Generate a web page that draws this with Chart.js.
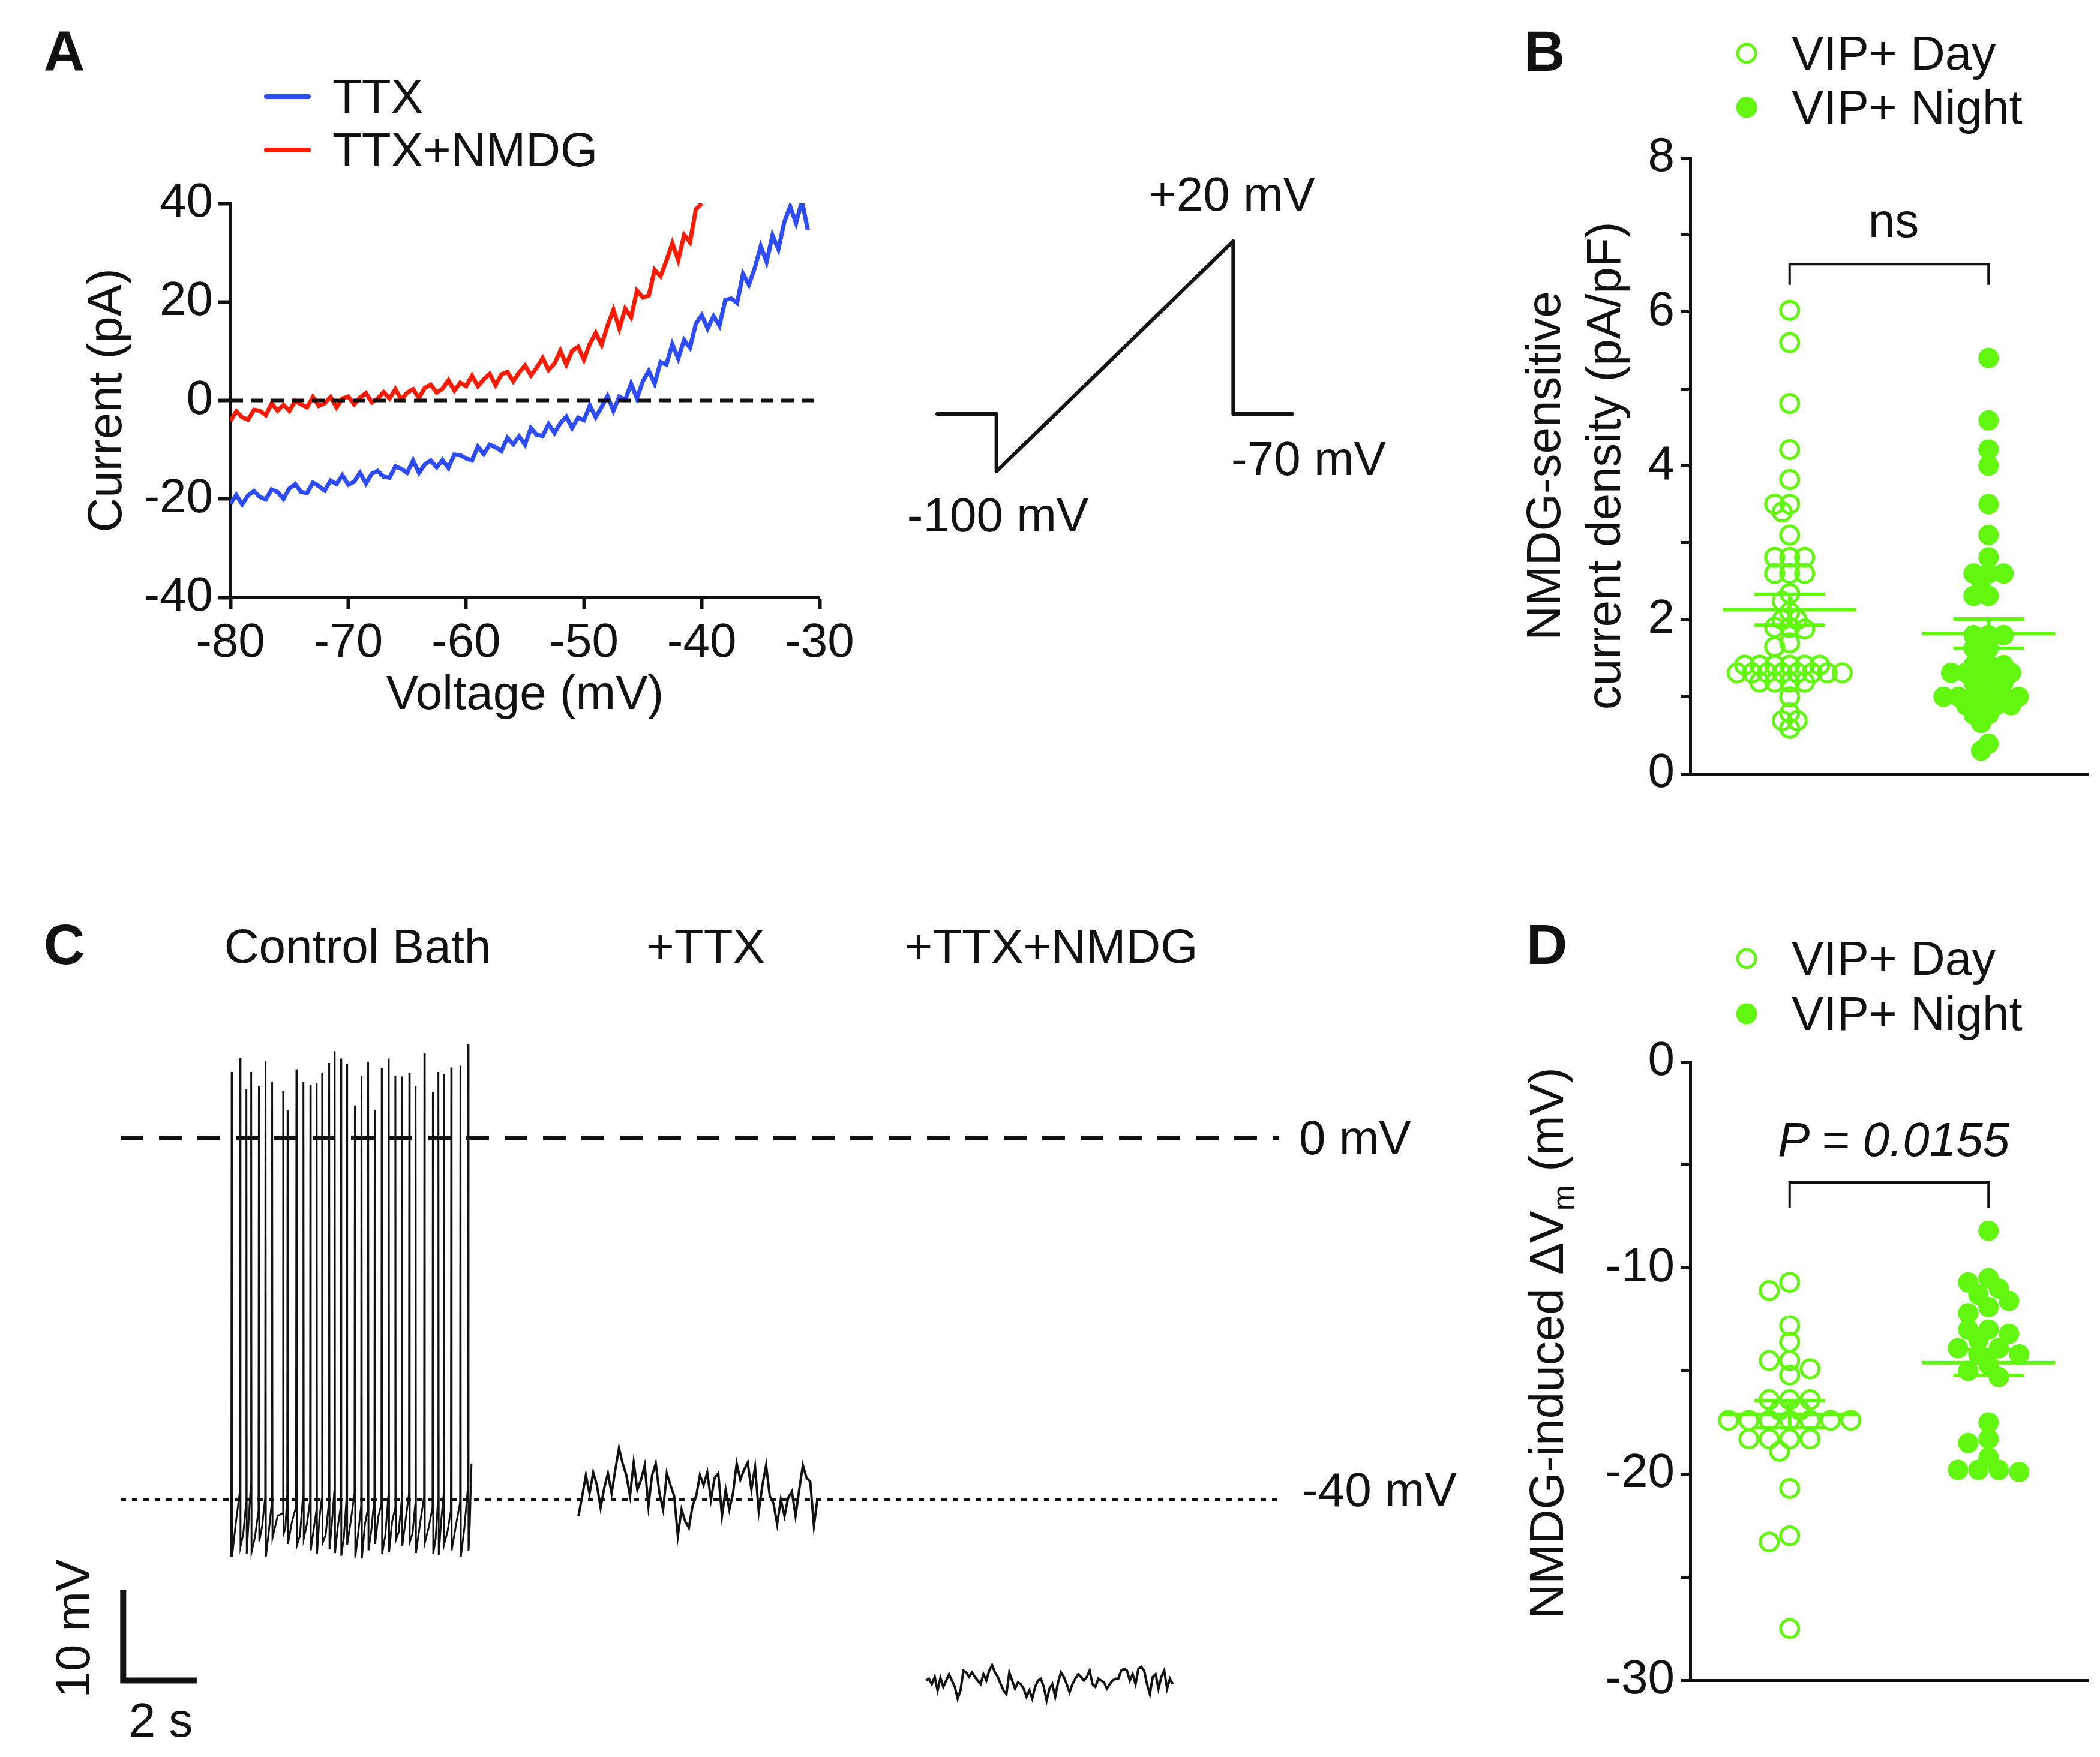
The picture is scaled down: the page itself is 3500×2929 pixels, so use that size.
<!DOCTYPE html>
<html>
<head>
<meta charset="utf-8">
<script src="https://cdn.jsdelivr.net/npm/chart.js"></script>
<style>
  body { margin:0; width:3500px; height:2929px; background:#fff; position:relative; overflow:hidden;
         font-family:"Liberation Sans", Arial, Helvetica, sans-serif; color:#111; }
  canvas { position:absolute; }
  .t { position:absolute; font-size:80px; line-height:1; white-space:nowrap; transform:translate(-50%,-50%); }
  .l { position:absolute; font-size:80px; line-height:1; white-space:nowrap; transform:translateY(-50%); }
  .big { font-size:95px; font-weight:bold; }
  .seg { position:absolute; height:8px; width:78px; border-radius:4px; }
  .dot { position:absolute; border-radius:50%; box-sizing:border-box; transform:translate(-50%,-50%); }
</style>
</head>
<body>

<!-- panel letters -->
<div class="t big" style="left:107px;top:85px">A</div>
<div class="t big" style="left:2574px;top:85px">B</div>
<div class="t big" style="left:107px;top:1574px">C</div>
<div class="t big" style="left:2578px;top:1574px">D</div>

<!-- A legend -->
<div class="seg" style="left:440px;top:157px;background:#2d4bff"></div>
<div class="l" style="left:554px;top:161px">TTX</div>
<div class="seg" style="left:440px;top:246px;background:#ff1a00"></div>
<div class="l" style="left:554px;top:250px">TTX+NMDG</div>

<!-- ramp protocol labels -->
<div class="t" style="left:2053px;top:324px">+20 mV</div>
<div class="t" style="left:1663px;top:859px">-100 mV</div>
<div class="t" style="left:2181px;top:765px">-70 mV</div>

<!-- B legend -->
<div class="dot" style="left:2911px;top:89px;width:35px;height:35px;border:5px solid #62f70f"></div>
<div class="l" style="left:2986px;top:89px">VIP+ Day</div>
<div class="dot" style="left:2911px;top:179px;width:35px;height:35px;background:#62f70f"></div>
<div class="l" style="left:2986px;top:179px">VIP+ Night</div>
<div class="t" style="left:3156px;top:368px">ns</div>

<!-- C labels -->
<div class="t" style="left:596px;top:1578px">Control Bath</div>
<div class="t" style="left:1176px;top:1578px">+TTX</div>
<div class="t" style="left:1752px;top:1578px">+TTX+NMDG</div>
<div class="l" style="left:2165px;top:1897px">0 mV</div>
<div class="l" style="left:2170px;top:2484px">-40 mV</div>
<div class="t" style="left:122px;top:2715px;transform:translate(-50%,-50%) rotate(-90deg)">10 mV</div>
<div class="t" style="left:268px;top:2868px">2 s</div>

<!-- D legend and labels -->
<div class="dot" style="left:2911px;top:1598px;width:35px;height:35px;border:5px solid #62f70f"></div>
<div class="l" style="left:2986px;top:1598px">VIP+ Day</div>
<div class="dot" style="left:2911px;top:1690px;width:35px;height:35px;background:#62f70f"></div>
<div class="l" style="left:2986px;top:1690px">VIP+ Night</div>
<div class="t" style="left:3156px;top:1900px;font-style:italic">P = 0.0155</div>
<div class="t" style="left:2578px;top:2239px;transform:translate(-50%,-50%) rotate(-90deg)">NMDG-induced &Delta;V<span style="font-size:52px;position:relative;top:18px">m</span> (mV)</div>

<canvas id="ivChart" width="1304" height="928" style="left:132px;top:280px"></canvas>
<canvas id="rampChart" width="720" height="500" style="left:1500px;top:350px"></canvas>
<canvas id="densChart" width="972" height="1150" style="left:2528px;top:200px"></canvas>
<canvas id="traceChart" width="2050" height="1270" style="left:150px;top:1650px"></canvas>
<canvas id="vmChart" width="972" height="1161" style="left:2528px;top:1700px"></canvas>

<script>
// ---------- panel A: I-V ramp (pA vs mV), sampled every 0.5 mV from -80 mV
const ivStart = -80, ivStep = 0.5;
const ttxI = [-21.0,-19.2,-21.1,-19.3,-18.4,-19.6,-20.1,-18.1,-18.6,-20.0,-17.9,-17.0,-18.6,-18.8,-16.7,-17.4,
  -18.3,-16.3,-17.0,-15.2,-17.1,-16.5,-14.7,-16.9,-14.9,-14.3,-15.5,-15.7,-13.4,-13.9,-14.7,-12.2,-14.7,-13.0,
  -12.2,-13.6,-12.1,-13.7,-11.0,-11.1,-11.8,-12.2,-9.4,-10.9,-9.0,-9.5,-10.3,-7.6,-8.9,-7.3,-9.0,-5.6,-7.0,-7.2,
  -4.8,-6.6,-4.6,-3.3,-5.6,-3.5,-4.0,-1.0,-3.4,-1.3,0.9,-2.1,0.8,0.1,3.4,0.4,3.9,6.0,3.4,7.8,7.3,11.4,8.5,12.3,
  10.7,15.6,17.3,14.6,17.1,15.2,20.4,20.7,19.8,25.7,23.5,26.9,31.3,28.1,33.5,30.7,36.2,39.4,36.0,40.5,34.6];
const nmdgI = [-4.2,-2.2,-3.4,-3.9,-1.9,-2.1,-3.0,-0.6,-2.1,-0.9,-2.1,-0.1,-0.8,-1.4,0.7,-1.1,-0.6,0.7,-1.4,0.4,
  0.8,-0.8,0.6,1.5,-0.4,0.4,1.7,0.4,2.3,0.2,1.6,2.3,0.5,2.6,3.2,1.6,2.4,4.1,2.0,3.6,2.9,5.0,2.9,4.3,5.4,3.1,5.3,
  5.8,3.9,5.7,7.1,5.1,6.7,8.6,6.2,7.5,10.1,7.3,10.1,10.9,8.3,11.5,13.7,11.3,15.2,18.4,14.6,18.6,16.9,22.3,20.9,
  21.3,26.5,25.2,28.4,31.9,28.5,33.6,32.1,38.8,40.0];

// ramp protocol (command voltage)
const rampT = [0, 1, 1, 5, 5, 6];
const rampV = [-70, -70, -100, 20, -70, -70];

// ---------- panel B: NMDG-sensitive current density (pA/pF)
const dayB = [6.02,5.6,4.81,4.21,3.82,3.5,3.5,3.4,3.1,2.81,2.81,2.81,2.6,2.6,2.6,2.34,2.24,2.1,2.0,2.0,1.9,1.9,1.88,
  1.7,1.65,1.41,1.41,1.41,1.41,1.41,1.41,1.31,1.31,1.31,1.31,1.31,1.31,1.31,1.31,1.19,1.19,1.19,1.19,1.0,0.79,0.69,0.69,0.59];
const nightB = [5.4,4.59,4.21,4.0,3.5,3.1,2.81,2.6,2.6,2.6,2.5,2.31,2.31,1.8,1.8,1.8,1.63,1.63,1.51,1.41,1.41,1.41,
  1.31,1.31,1.31,1.31,1.31,1.19,1.19,1.19,1.1,1.0,1.0,1.0,1.0,1.0,1.0,0.89,0.89,0.89,0.89,0.77,0.77,0.66,0.39,0.3];
const meanB = [2.13, 1.82];
const semB = [0.2, 0.19];

// ---------- panel C: membrane potential traces (s, mV)
const ctrlStart = 3.0, ctrlEnd = 9.54, ctrlStartVm = -46.3, ctrlEndVm = -36.0;
const ctrlSpikeT = [3.02,3.25,3.42,3.55,3.76,3.94,4.12,4.42,4.54,4.78,4.97,5.16,5.33,5.48,5.67,5.82,5.99,6.15,
  6.37,6.55,6.73,6.91,7.10,7.29,7.47,7.65,7.85,8.02,8.26,8.49,8.64,8.79,8.99,9.24,9.45];
const ctrlPeak = [7.3,8.9,5.4,7.3,5.7,8.5,6.2,5.2,3.1,7.6,6.2,5.9,6.1,7.2,8.3,9.6,8.8,8.2,3.6,6.9,8.4,3.1,7.7,8.8,
  6.9,6.8,7.2,5.7,9.4,5.1,7.3,7.1,7.8,8.0,10.4];
const ctrlTrough = [-46.3,-45.2,-46.0,-45.8,-44.6,-46.3,-44.2,-43.8,-44.9,-45.1,-44.3,-45.6,-46.0,-44.8,-45.5,-45.9,
  -46.2,-45.0,-46.4,-46.5,-45.6,-44.9,-46.0,-45.8,-44.5,-45.1,-44.7,-45.9,-44.8,-46.0,-46.1,-44.9,-45.6,-46.3,-45.7];
const ctrlMid = [-42.5,-43.8,-42.0,-44.1,-42.9,-43.5,-41.8,-43.2,-42.4,-44.0,-42.7,-43.4,-42.1,-43.9,-42.6,-43.0,
  -44.2,-42.3,-43.7,-42.8,-43.3,-41.9,-44.0,-42.5,-43.6,-42.2,-43.8,-42.7,-43.1,-44.3,-42.4,-43.5,-42.9,-43.2,-42.6];
const ctrlPre = [-41.0,-39.2,-40.5,-38.5,-41.2,-39.8,-40.3,-41.5,-39.5,-40.8,-39.6,-40.2,-41.3,-39.9,-40.4,-39.1,
  -40.9,-40.0,-39.3,-40.7,-41.1,-39.8,-40.5,-39.6,-41.0,-40.2,-39.4,-40.6,-39.7,-40.9,-40.1,-39.5,-41.2,-40.3,-38.8];

const ttxStart = 12.45, ttxStep = 0.1;
const ttxVm = [-41.8,-39.6,-37.3,-39.3,-37.0,-38.4,-40.9,-38.7,-37.1,-39.3,-36.7,-34.3,-36.0,-37.3,-39.6,-35.9,
  -38.9,-37.8,-36.2,-40.7,-37.3,-36.0,-39.3,-41.1,-37.1,-38.4,-39.6,-44.0,-41.1,-42.4,-43.1,-40.7,-39.6,-37.3,
  -38.4,-37.0,-40.0,-37.6,-37.1,-41.8,-38.9,-41.1,-39.3,-36.0,-37.8,-36.7,-35.9,-38.9,-36.4,-41.3,-38.4,-36.2,
  -39.6,-40.4,-42.7,-40.0,-41.8,-39.8,-39.1,-41.8,-38.9,-36.2,-37.6,-38.0,-42.9,-39.8];

const nmdgStart = 21.9, nmdgStep = 0.078;
const nmdgVm = [-60.0,-59.8,-60.4,-59.6,-61.1,-59.7,-60.7,-60.0,-59.3,-60.0,-60.7,-62.0,-61.1,-58.9,-59.1,-59.6,
  -59.1,-59.6,-60.0,-60.4,-59.3,-60.0,-58.9,-58.3,-59.1,-59.6,-60.4,-61.1,-61.5,-59.1,-60.0,-60.9,-60.2,-60.4,
  -60.9,-61.8,-61.1,-62.0,-60.7,-60.0,-59.8,-60.7,-62.2,-60.9,-60.4,-61.8,-60.2,-59.1,-59.6,-60.4,-61.3,-60.4,
  -59.8,-59.3,-59.6,-60.0,-59.6,-58.9,-60.4,-60.7,-59.8,-60.0,-60.2,-60.9,-60.4,-60.0,-59.8,-59.8,-58.9,-58.7,
  -58.9,-60.0,-59.3,-60.4,-58.7,-58.5,-58.9,-60.4,-61.5,-59.6,-59.3,-60.9,-59.6,-58.9,-60.9,-59.8,-60.4];

const refLevels = [0, -40];           // dashed 0 mV, dotted -40 mV
const barT = [0.07, 0.07, 2.07];      // 10 mV / 2 s scale bar
const barV = [-50, -60, -60];

// ---------- panel D: NMDG-induced change in Vm (mV)
const dayD = [-10.7,-11.1,-12.8,-13.6,-14.5,-14.5,-14.9,-15.2,-16.4,-16.4,-16.4,-16.9,-16.9,
  -17.4,-17.4,-17.4,-17.4,-17.4,-17.4,-17.4,-18.3,-18.3,-18.3,-18.3,-18.9,-20.7,-23.0,-23.3,-27.5];
const nightD = [-8.2,-10.5,-10.7,-11.0,-11.3,-11.6,-11.9,-12.2,-13.0,-13.0,-13.2,-13.5,-13.9,-13.9,-14.2,-14.2,
  -14.7,-15.0,-15.3,-17.5,-18.3,-18.5,-19.2,-19.8,-19.8,-19.8,-19.9];
const meanD = [-17.1, -14.6];
const semD = [0.65, 0.62];

// ------------------------------------------------------------------
const INK = '#111';
const GREEN = '#62f70f';
Chart.defaults.font.family = "'Liberation Sans', Arial, Helvetica, sans-serif";
Chart.defaults.font.size = 80;
Chart.defaults.color = INK;
Chart.defaults.animation = false;
Chart.defaults.responsive = false;
Chart.defaults.plugins.legend.display = false;
Chart.defaults.plugins.tooltip.enabled = false;
Chart.defaults.elements.point.radius = 0;
Chart.defaults.elements.line.tension = 0;

const line = (data, color, width, extra) => Object.assign({
  data, borderColor: color, borderWidth: width, pointRadius: 0, fill: false
}, extra || {});
const seq = (start, step, arr) => arr.map((y, i) => ({x: start + i * step, y}));
const zip = (xs, ys) => xs.map((x, i) => ({x, y: ys[i]}));

// ---------- A: I-V
new Chart(document.getElementById('ivChart'), {
  type: 'line',
  data: { datasets: [
    line([{x: -80, y: 0}, {x: -30, y: 0}], INK, 6, {borderDash: [21, 13]}),
    line(seq(ivStart, ivStep, nmdgI), '#ff1a00', 7),
    line(seq(ivStart, ivStep, ttxI), '#2d4bff', 7)
  ]},
  options: {
    layout: { padding: {left: 0, top: 59, right: 70, bottom: 0} },
    scales: {
      x: { type: 'linear', min: -80, max: -30,
        ticks: { stepSize: 10, padding: 9, font: {size: 80} },
        grid: { drawOnChartArea: false, tickLength: 20, tickWidth: 6, tickColor: INK },
        border: { color: INK, width: 6 },
        title: { display: true, text: 'Voltage (mV)', padding: 0, font: {size: 80} },
        afterFit: s => { s.height = 212; } },
      y: { min: -40, max: 40,
        ticks: { stepSize: 10, padding: 9, font: {size: 80}, callback: v => v % 20 === 0 ? v : '' },
        grid: { drawOnChartArea: false, tickLength: 20, tickWidth: 6, tickColor: INK },
        border: { color: INK, width: 6 },
        title: { display: true, text: 'Current (pA)', padding: 0, font: {size: 80} },
        afterFit: s => { s.width = 252; } }
    }
  }
});

// ---------- A: ramp protocol
new Chart(document.getElementById('rampChart'), {
  type: 'line',
  data: { datasets: [ line(zip(rampT, rampV), INK, 6, {borderCapStyle: 'round', borderJoinStyle: 'round'}) ] },
  options: {
    clip: false,
    layout: { padding: {left: 62, top: 52, right: 66, bottom: 64} },
    scales: { x: {type: 'linear', display: false, min: 0, max: 6}, y: {display: false, min: -100, max: 20} }
  }
});

// beeswarm: spread points sideways so circles do not pile up
function swarm(chart, idx, center, values, minDist, step) {
  const xs = chart.scales.x, ys = chart.scales.y;
  const cx = xs.getPixelForValue(center);
  const placed = [];
  const out = new Array(values.length);
  values.map((v, i) => i).sort((a, b) => values[b] - values[a]).forEach(i => {
    const py = ys.getPixelForValue(values[i]);
    let px = cx;
    for (let n = 0; n < 200; n++) {
      px = cx + (n === 0 ? 0 : (n % 2 ? -1 : 1) * Math.ceil(n / 2) * step);
      if (placed.every(p => Math.hypot(p[0] - px, p[1] - py) >= minDist)) break;
    }
    placed.push([px, py]);
    out[i] = {x: xs.getValueForPixel(px), y: values[i]};
  });
  chart.data.datasets[idx].data = out;
}

function errBars(means, sems, half, halfSem) {
  const pts = [];
  means.forEach((m, i) => {
    const c = i + 1;
    pts.push({x: c - half, y: m}, {x: c + half, y: m}, {x: c, y: null},
             {x: c - halfSem, y: m + sems[i]}, {x: c + halfSem, y: m + sems[i]}, {x: c, y: null},
             {x: c - halfSem, y: m - sems[i]}, {x: c + halfSem, y: m - sems[i]}, {x: c, y: null},
             {x: c, y: m - sems[i]}, {x: c, y: m + sems[i]}, {x: c, y: null});
  });
  return pts;
}

function dotChart(id, dayVals, nightVals, means, sems, yMin, yMax, yStep, yLabelEvery, brLow, brHigh, padTop, title, minDist, step) {
  const axisY = {
    min: yMin, max: yMax,
    ticks: { stepSize: yStep, padding: 10, font: {size: 80}, callback: v => v % yLabelEvery === 0 ? v : '' },
    grid: { drawOnChartArea: false, tickLength: 16, tickWidth: 5, tickColor: INK },
    border: { color: INK, width: 5 },
    afterFit: s => { s.width = 289; }
  };
  if (title) axisY.title = { display: true, text: title, padding: 0, font: {size: 80, lineHeight: 1.25} };
  const ch = new Chart(document.getElementById(id), {
    type: 'line',
    data: { datasets: [
      line([{x: 1, y: brLow}, {x: 1, y: brHigh}, {x: 2, y: brHigh}, {x: 2, y: brLow}], INK, 4),
      line(errBars(means, sems, 0.335, 0.177), GREEN, 6),
      { data: dayVals.map(v => ({x: 1, y: v})), showLine: false, pointRadius: 15, pointBorderWidth: 5,
        pointBorderColor: GREEN, pointBackgroundColor: 'rgba(0,0,0,0)' },
      { data: nightVals.map(v => ({x: 2, y: v})), showLine: false, pointRadius: 17, pointBorderWidth: 0,
        pointBorderColor: GREEN, pointBackgroundColor: GREEN }
    ]},
    options: {
      clip: false,
      layout: { padding: {left: 0, top: padTop, right: 0, bottom: 0} },
      scales: {
        x: { type: 'linear', min: 0.5, max: 2.5,
          ticks: { display: false }, grid: { display: false, drawTicks: false },
          border: { color: INK, width: 5 },
          afterFit: s => { s.height = 60; } },
        y: axisY
      }
    }
  });
  swarm(ch, 2, 1, dayVals, minDist, step);
  swarm(ch, 3, 2, nightVals, minDist, step);
  ch.update('none');
  return ch;
}

// ---------- B
dotChart('densChart', dayB, nightB, meanB, semB, 0, 8, 1, 2, 6.35, 6.62, 63,
  ['NMDG-sensitive', 'current density (pA/pF)'], 17, 12.5);

// ---------- D
dotChart('vmChart', dayD, nightD, meanD, semD, -30, 0, 5, 10, -7.07, -5.85, 70, null, 24, 17);

// ---------- C: voltage traces
const ctrl = [{x: ctrlStart, y: ctrlStartVm}];
ctrlSpikeT.forEach((t, i) => {
  const next = i + 1 < ctrlSpikeT.length ? ctrlSpikeT[i + 1] : ctrlEnd;
  ctrl.push({x: t - 0.01, y: ctrlPre[i]}, {x: t, y: ctrlPeak[i]}, {x: t + 0.01, y: ctrlTrough[i]},
            {x: (t + next) / 2, y: ctrlMid[i]});
});
ctrl.push({x: ctrlEnd, y: ctrlEndVm});

new Chart(document.getElementById('traceChart'), {
  type: 'line',
  data: { datasets: [
    line([{x: 0, y: refLevels[0]}, {x: 31.5, y: refLevels[0]}], INK, 6, {borderDash: [38, 26]}),
    line([{x: 0, y: refLevels[1]}, {x: 31.5, y: refLevels[1]}], INK, 5, {borderDash: [9, 10]}),
    line(ctrl, INK, 3),
    line(seq(ttxStart, ttxStep, ttxVm), INK, 4),
    line(seq(nmdgStart, nmdgStep, nmdgVm), INK, 4),
    line(zip(barT, barV), INK, 10, {borderJoinStyle: 'miter'})
  ]},
  options: {
    clip: false,
    layout: { padding: {left: 51, top: 36, right: 68, bottom: 28} },
    scales: { x: {type: 'linear', display: false, min: 0, max: 31.5}, y: {display: false, min: -66, max: 14} }
  }
});
</script>
</body>
</html>
